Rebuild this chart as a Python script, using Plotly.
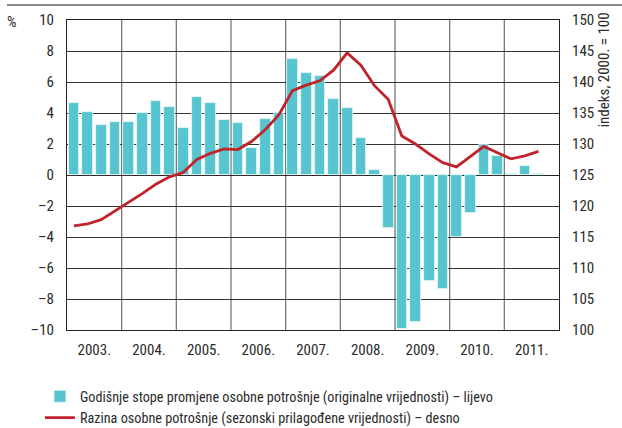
import plotly.graph_objects as go

years = ["2003.", "2004.", "2005.", "2006.", "2007.", "2008.", "2009.", "2010.", "2011."]
quarters = list(range(35))  # 2003 Q1 .. 2011 Q3

growth = [4.62, 4.04, 3.25, 3.40,
          3.44, 3.98, 4.77, 4.37,
          3.05, 5.01, 4.62, 3.55,
          3.33, 1.74, 3.63, 4.02,
          7.48, 6.56, 6.41, 4.92,
          4.34, 2.41, 0.32, -3.44,
          -9.94, -9.50, -6.84, -7.38,
          -4.02, -2.47, 1.94, 1.25,
          0.05, 0.58, 0.08]

level = [116.8, 117.1, 117.8, 119.2,
         120.5, 122.0, 123.5, 124.7,
         125.4, 127.5, 128.5, 129.2,
         129.1, 130.4, 132.3, 134.7,
         138.6, 139.5, 140.2, 141.9,
         144.7, 142.7, 139.4, 137.2,
         131.3, 130.0, 128.4, 127.0,
         126.3, 128.0, 129.6, 128.6,
         127.6, 128.1, 128.8]

left_ticks = list(range(-10, 11, 2))
left_labels = [("–" + str(-v)) if v < 0 else str(v) for v in left_ticks]

bar_name = "Godišnje stope promjene osobne potrošnje (originalne vrijednosti) – lijevo"
line_name = "Razina osobne potrošnje (sezonski prilagođene vrijednosti) – desno"

FONT = "Liberation Sans Narrow, Roboto Condensed, Arial Narrow, sans-serif"
TXT = "#2b2b2b"

fig = go.Figure()
fig.add_trace(go.Bar(x=quarters, y=growth, name=bar_name, width=0.78,
                     marker=dict(color="#56C5CF", line=dict(color="#e8f7f8", width=0.8)),
                     yaxis="y"))
fig.add_trace(go.Scatter(x=quarters, y=level, name=line_name, mode="lines",
                         line=dict(color="#C0242B", width=2.8), yaxis="y2"))

year_centers = [1.5 + 4 * i for i in range(len(years))]
year_bounds = [3.5 + 4 * i for i in range(len(years) - 1)]

fig.update_layout(
    width=622, height=428,
    margin=dict(l=67, r=63, t=20, b=98, autoexpand=False),
    paper_bgcolor="white", plot_bgcolor="white",
    font=dict(family=FONT, size=15, color=TXT),
    bargap=0,
    showlegend=True,
    legend=dict(x=-0.055, y=-0.163, xanchor="left", yanchor="top",
                font=dict(family=FONT, size=14.2, color=TXT),
                tracegroupgap=0, itemwidth=30, bgcolor="rgba(0,0,0,0)"),
    xaxis=dict(range=[-0.5, 35.5], tickmode="array", tickvals=year_centers, ticktext=years,
               showgrid=False, zeroline=False, ticks="", ticklabelstandoff=6,
               automargin=False,
               showline=True, linecolor="#222", linewidth=1, mirror=True),
    yaxis=dict(range=[-10, 10], tickmode="array", tickvals=left_ticks, ticktext=left_labels,
               showgrid=True, gridcolor="#333", gridwidth=1,
               zeroline=True, zerolinecolor="#222", zerolinewidth=1.2,
               showline=True, linecolor="#222", linewidth=1, mirror=True,
               automargin=False, ticks="", ticklabelstandoff=9),
    yaxis2=dict(range=[100, 150], tickmode="linear", tick0=100, dtick=5,
                overlaying="y", side="right", showgrid=False, zeroline=False,
                automargin=False, ticks="", ticklabelstandoff=12, showline=False),
)

for b in year_bounds:
    fig.add_shape(type="line", xref="x", yref="paper", x0=b, x1=b, y0=0, y1=1,
                  line=dict(color="#777", width=1.3), layer="below")

fig.add_annotation(text="%", xref="paper", yref="paper", x=-0.112, y=0.993,
                   xanchor="center", yanchor="middle", showarrow=False,
                   font=dict(family=FONT, size=15, color=TXT))
fig.add_annotation(text="indeks, 2000. = 100", xref="paper", yref="paper",
                   x=1.091, y=0.84, textangle=-90, xanchor="center", yanchor="middle",
                   showarrow=False, font=dict(family=FONT, size=15, color=TXT))
fig.add_shape(type="line", xref="paper", yref="paper", x0=-0.122, x1=1.13,
              y0=1.048, y1=1.048, line=dict(color="#8a8a8a", width=2))

fig.write_html("out.html", config={"displayModeBar": False},
               post_script="document.body.style.margin='0';document.body.style.overflow='hidden';")
